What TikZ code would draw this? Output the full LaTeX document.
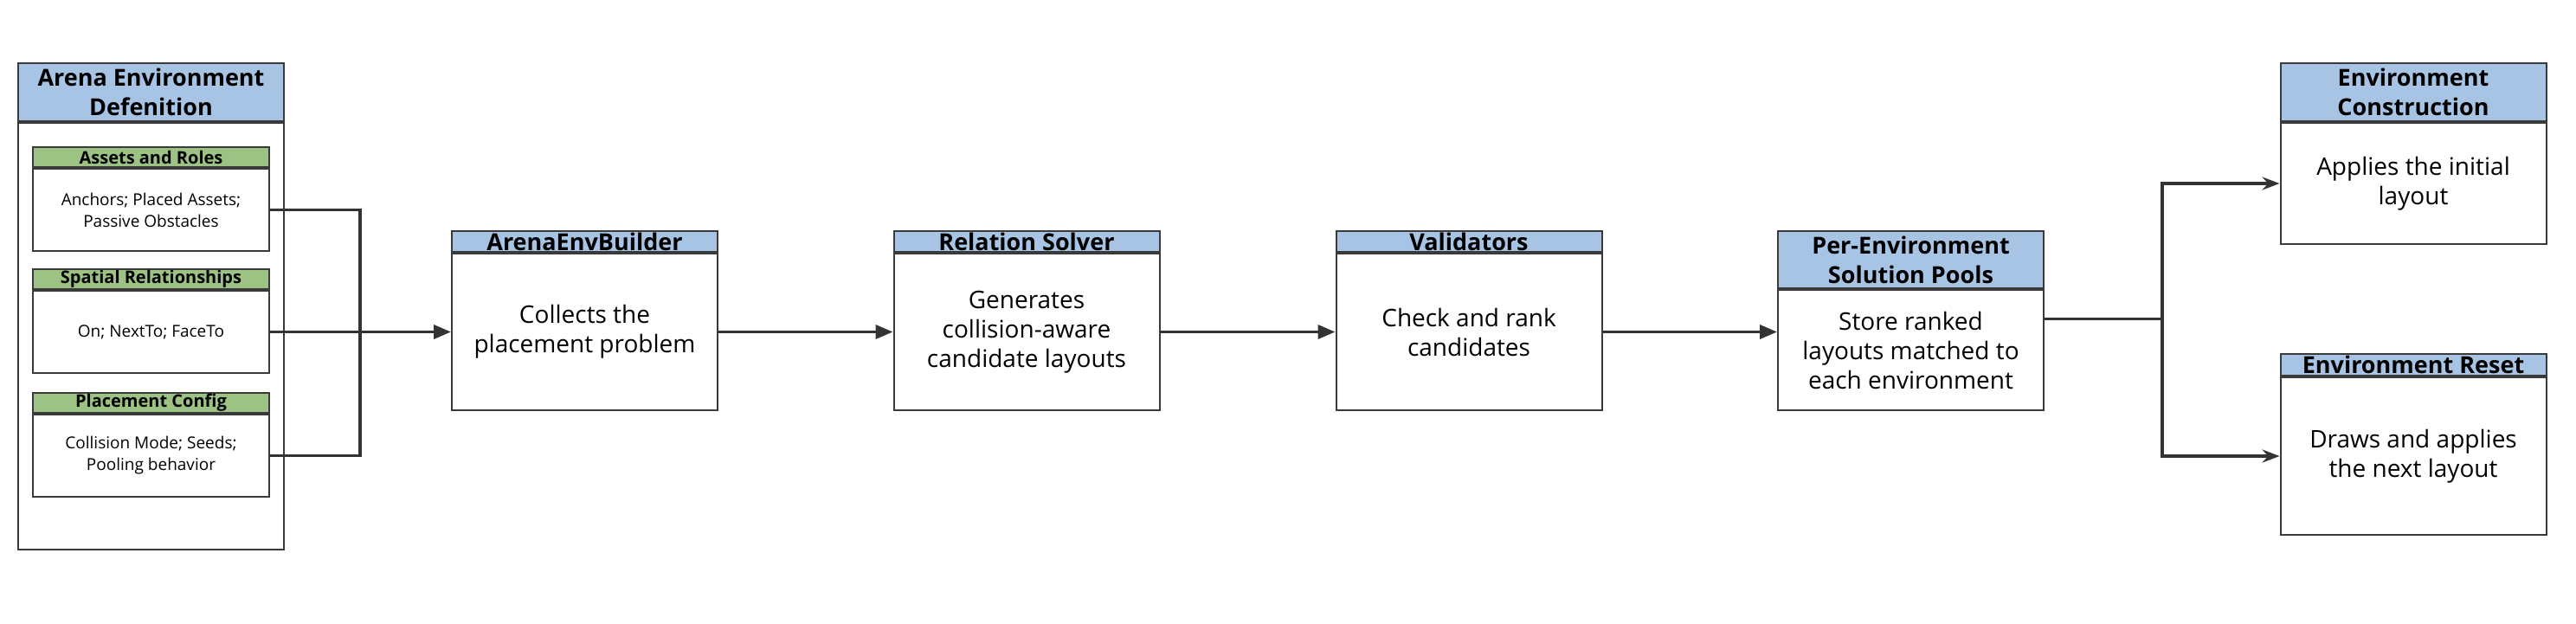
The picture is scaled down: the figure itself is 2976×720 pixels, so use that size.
\documentclass[tikz,border=0pt]{standalone}
\usepackage{fontspec}
\setmainfont{Open Sans}
\usetikzlibrary{arrows.meta}
\definecolor{hdrblue}{HTML}{A7C4E4}
\definecolor{hdrgreen}{HTML}{9DC384}
\definecolor{bordercol}{HTML}{3A3A3A}
\definecolor{linecol}{HTML}{333333}
\tikzset{
  hdrbox/.style={draw=bordercol, fill=hdrblue, line width=1pt, inner sep=0pt, anchor=north,
    align=center, minimum width=153.5pt, font=\bfseries\fontsize{13.5}{17}\selectfont},
  bodybox/.style={draw=bordercol, fill=white, line width=1pt, inner sep=0pt, anchor=north,
    align=center, minimum width=153.5pt, font=\fontsize{14}{17}\selectfont},
  subhdr/.style={draw=bordercol, fill=hdrgreen, line width=1pt, inner sep=0pt, anchor=north,
    align=center, minimum width=136.5pt, minimum height=11.5pt, font=\bfseries\fontsize{10}{11}\selectfont},
  subbody/.style={draw=bordercol, fill=white, line width=1pt, inner sep=0pt, anchor=north,
    align=center, minimum width=136.5pt, minimum height=47.5pt, font=\fontsize{9.5}{12.5}\selectfont},
  conn/.style={draw=linecol, line width=1.8pt},
  flow/.style={conn, -{Triangle[length=10pt,width=8pt]}},
  branch/.style={conn, -{Stealth[length=10pt,width=7.5pt,inset=3.5pt]}}
}
\begin{document}
\begin{tikzpicture}[x=0.5pt,y=-0.5pt]
\useasboundingbox (0,0) rectangle (2976,720);

% Arena Environment Defenition
\node[hdrbox, minimum height=33.5pt] (defh) at (174.5,72) {Arena Environment\\Defenition};
\node[bodybox, minimum height=246.5pt] (defb) at (defh.south) {};

\node[subhdr] (ah) at (174.5,169) {Assets and Roles};
\node[subbody] (ab) at (ah.south) {Anchors; Placed Assets;\\Passive Obstacles};
\node[subhdr] (sh) at (174.5,310) {Spatial Relationships};
\node[subbody] (sb) at (sh.south) {On; NextTo; FaceTo};
\node[subhdr] (ph) at (174.5,453) {Placement Config};
\node[subbody] (pb) at (ph.south) {Collision Mode; Seeds;\\Pooling behavior};

% Pipeline
\node[hdrbox, minimum height=12pt] (aebh) at (675.5,266) {ArenaEnvBuilder};
\node[bodybox, minimum height=90.5pt] (aeb) at (aebh.south) {Collects the\\placement problem};

\node[hdrbox, minimum height=12pt] (rsh) at (1186,266) {Relation Solver};
\node[bodybox, minimum height=90.5pt] (rs) at (rsh.south) {Generates\\collision-aware\\candidate layouts};

\node[hdrbox, minimum height=12pt] (valh) at (1697,266) {Validators};
\node[bodybox, minimum height=90.5pt] (val) at (valh.south) {Check and rank\\candidates};

\node[hdrbox, minimum height=33pt] (poolh) at (2207.5,266) {Per-Environment\\Solution Pools};
\node[bodybox, minimum height=69.5pt] (pool) at (poolh.south) {Store ranked\\layouts matched to\\each environment};

\node[hdrbox, minimum height=33.5pt] (ech) at (2788,72) {Environment\\Construction};
\node[bodybox, minimum height=70pt] (ec) at (ech.south) {Applies the initial\\layout};

\node[hdrbox, minimum height=12.5pt] (erh) at (2788,408) {Environment Reset};
\node[bodybox, minimum height=91pt] (er) at (erh.south) {Draws and applies\\the next layout};

% Connectors
\coordinate (join) at (416,381.5);
\draw[conn] (ab.east) -| (join);
\draw[conn] (pb.east) -| (join);
\draw[flow] (sb.east) -- (sb.east -| aeb.west);
\draw[flow] (aeb.east) -- (aeb.east -| rs.west);
\draw[flow] (rs.east) -- (rs.east -| val.west);
\draw[flow] (val.east) -- (val.east -| pool.west);

\coordinate (fork) at (2498,368.5);
\draw[conn] (pool.east |- fork) -- (fork);
\draw[branch] (fork) |- (ec.west);
\draw[branch] (fork) |- (er.west);
\end{tikzpicture}
\end{document}
